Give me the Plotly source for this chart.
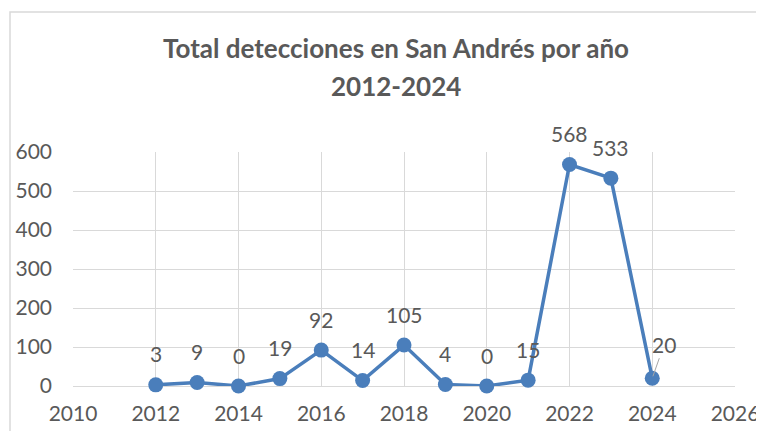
import plotly.graph_objects as go

years = [2012, 2013, 2014, 2015, 2016, 2017, 2018, 2019, 2020, 2021, 2022, 2023, 2024]
detecciones = [3, 9, 0, 19, 92, 14, 105, 4, 0, 15, 568, 533, 20]
title_line1 = "<b>Total detecciones en San Andrés por año</b>"
title_line2 = "<b>2012-2024</b>"

FONT = "Lato, Carlito, Calibri, sans-serif"
GRAY = "#595959"
BLUE = "#4a7ebb"

# plot area in screen pixels (page body has an 8px margin)
W, H = 756, 423
PL, PR, PT, PB = 73, 735, 152, 386
PW, PH = PR - PL, PB - PT

fig = go.Figure()
fig.add_trace(go.Scatter(
    x=years, y=detecciones, mode="lines+markers",
    line=dict(color=BLUE, width=3.5),
    marker=dict(color=BLUE, size=15),
    cliponaxis=False, showlegend=False, hoverinfo="x+y",
))

annotations = []
for x, y in zip(years, detecciones):
    if x == 2024:
        annotations.append(dict(x=x, y=y, xref="x", yref="y", text=str(y),
                                showarrow=True, arrowhead=0, arrowwidth=1,
                                arrowcolor="#a6a6a6", ax=12, ay=-34, standoff=2,
                                font=dict(family=FONT, size=21, color=GRAY)))
    else:
        annotations.append(dict(x=x, y=y, xref="x", yref="y", text=str(y),
                                showarrow=False, yshift=31,
                                font=dict(family=FONT, size=21, color=GRAY)))

for txt, py in [(title_line1, 48), (title_line2, 86)]:
    annotations.append(dict(x=(396 - PL) / PW, y=(PB - py) / PH, xref="paper", yref="paper",
                            text=txt, showarrow=False, xanchor="center", yanchor="middle",
                            font=dict(family=FONT, size=26, color=GRAY)))

fig.update_layout(
    width=W, height=H,
    margin=dict(l=PL - 8, r=W + 8 - PR, t=PT - 8, b=H + 8 - PB, autoexpand=False),
    paper_bgcolor="white", plot_bgcolor="white",
    font=dict(family=FONT, size=21, color=GRAY),
    xaxis=dict(range=[2010, 2026], dtick=2, tick0=2010, showgrid=True, automargin=False,
               gridcolor="#d9d9d9", gridwidth=1, zeroline=False,
               showline=False, ticks="", ticklabelstandoff=13,
               tickfont=dict(family=FONT, size=21, color=GRAY)),
    yaxis=dict(range=[0, 600], dtick=100, showgrid=True, gridcolor="#d9d9d9", automargin=False,
               gridwidth=1, zeroline=True, zerolinecolor="#d9d9d9", zerolinewidth=1,
               showline=False, ticks="", ticklabelstandoff=20,
               tickfont=dict(family=FONT, size=21, color=GRAY)),
    annotations=annotations,
    shapes=[dict(type="rect", xref="paper", yref="paper",
                 x0=(10 - PL) / PW, x1=(800 - PL) / PW,
                 y0=(PB - 470) / PH, y1=(PB - 12) / PH,
                 line=dict(color="#d9d9d9", width=1.5), layer="below")],
)

fig.write_html("out.html")
